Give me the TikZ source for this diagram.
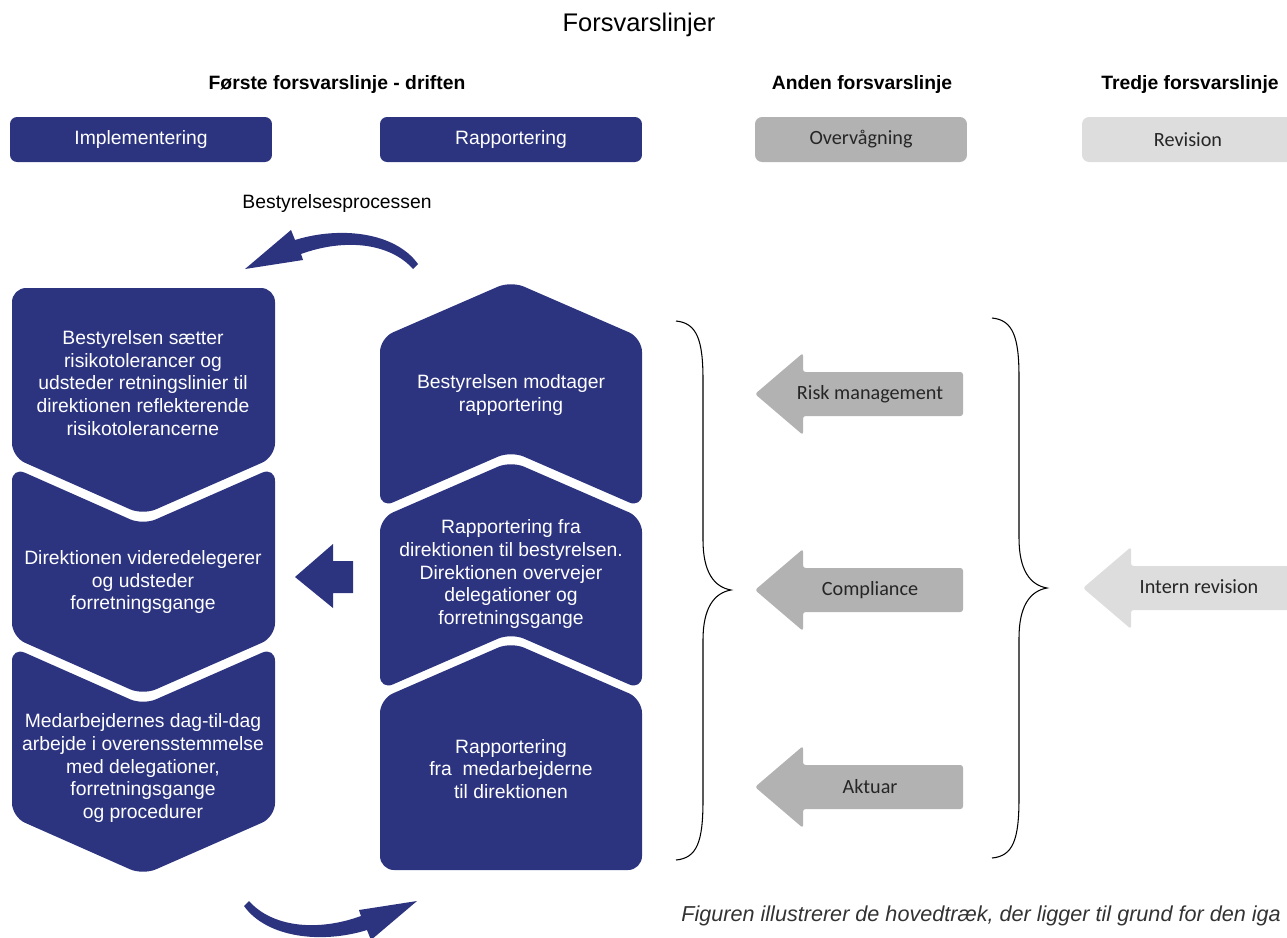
\documentclass[tikz,border=0pt]{standalone}
\usepackage{fontspec}
\setmainfont{Liberation Sans}
\newfontfamily\calibri{Carlito}
\definecolor{navy}{RGB}{44,52,128}
\definecolor{midgray}{RGB}{178,178,178}
\definecolor{lightgray}{RGB}{221,221,221}
\tikzset{
  topbox/.style={rounded corners=4pt, minimum width=5.24cm, minimum height=0.9cm, font=\fontsize{11}{13}\selectfont},
  boxtext/.style={text=white, align=center, font=\fontsize{11}{13}\selectfont},
  head/.style={font=\bfseries\fontsize{11}{13}\selectfont},
  graytext/.style={text=black!85, font=\calibri\fontsize{11.5}{13}\selectfont},
  brace/.style={black, line width=0.6pt}
}

\begin{document}
\begin{tikzpicture}[x=0.02cm, y=-0.02cm]
    \clip (0,0) rectangle (1287,937);

    % titles
    \node[font=\fontsize{14.5}{16}\selectfont] (title) at (639,25) {Forsvarslinjer};
    \node[head] (hdA) at (337,84) {Første forsvarslinje - driften};
    \node[head] (hdB) at (862,84) {Anden forsvarslinje};
    \node[head] (hdC) at (1190,84) {Tredje forsvarslinje};

    \node[topbox, fill=navy, text=white] (impl) at (141,139.5) {Implementering};
    \node[topbox, fill=navy, text=white] (rapp) at (511,139.5) {Rapportering};
    \node[topbox, fill=midgray, text=black!85, font=\calibri\fontsize{11.5}{13}\selectfont, minimum width=4.24cm] (overv) at (861,139.5) {Overvågning};
    \node[topbox, fill=lightgray, text=black!85, font=\calibri\fontsize{11.5}{13}\selectfont, minimum width=4.24cm] (revi) at (1188,139.5) {Revision};

    \node[font=\fontsize{11}{13}\selectfont] (proc) at (337,203) {Bestyrelsesprocessen};

    % process arrows
    \fill[navy]
      (245,269) -- (291,230) -- (295,240) .. controls (340,226) and (395,232) .. (418,264)
      -- (413,269) .. controls (390,243) and (345,238) .. (301,254) -- (303,260) -- cycle;
    \fill[navy, rotate around={180:(331,585)}]
      (245,269) -- (291,230) -- (295,240) .. controls (340,226) and (395,232) .. (418,264)
      -- (413,269) .. controls (390,243) and (345,238) .. (301,254) -- (303,260) -- cycle;

    % first column, chevrons pointing down
    \fill[navy, rounded corners=8]
      (12,288) -- (275,288) -- (275,457) -- (143,515) -- (12,457) -- cycle;
    \fill[navy, rounded corners=8]
      (12,467) -- (143,525) -- (275,467) -- (275,637) -- (143,695) -- (12,637) -- cycle;
    \fill[navy, rounded corners=8]
      (12,647) -- (143,705) -- (275,647) -- (275,817) -- (143,875) -- (12,817) -- cycle;
    \node[boxtext] (c1) at (143,383) {Bestyrelsen sætter\\risikotolerancer og\\udsteder retningslinier til\\direktionen reflekterende\\risikotolerancerne};
    \node[boxtext] (c2) at (143,582) {Direktionen videredelegerer\\og udsteder\\forretningsgange};
    \node[boxtext] (c3) at (143,768) {Medarbejdernes dag-til-dag\\arbejde i overensstemmelse\\med delegationer,\\forretningsgange\\ og procedurer};

    % second column, houses pointing up
    \fill[navy, rounded corners=8]
      (380,338) -- (511,281) -- (642,338) -- (642,508) -- (511,451) -- (380,508) -- cycle;
    \fill[navy, rounded corners=8]
      (380,518) -- (511,461) -- (642,518) -- (642,690) -- (511,633) -- (380,690) -- cycle;
    \fill[navy, rounded corners=8]
      (380,699) -- (511,642) -- (642,699) -- (642,870) -- (380,870) -- cycle;
    \node[boxtext] (r1) at (511,395) {Bestyrelsen modtager\\rapportering};
    \node[boxtext] (r2) at (511,574) {Rapportering fra\\direktionen til bestyrelsen.\\Direktionen overvejer\\delegationer og\\forretningsgange};
    \node[boxtext] (r3) at (511,769) {Rapportering\\fra\ \ medarbejderne\\til direktionen};

    % delegation arrow
    \fill[navy] (295,577) -- (333,544) -- (333,561) -- (353,561) -- (353,593) -- (333,593) -- (333,608) -- cycle;

    % braces
    \draw[brace] (676,321) .. controls (697,323) and (703,340) .. (703,380) -- (703,540)
      .. controls (703,572) and (714,587) .. (731,590) .. controls (714,593) and (703,608) .. (703,640)
      -- (703,800) .. controls (703,842) and (697,858) .. (676,860);
    \draw[brace] (992,318) .. controls (1013,320) and (1019,337) .. (1019,377) -- (1019,538)
      .. controls (1019,570) and (1030,585) .. (1047,588) .. controls (1030,591) and (1019,606) .. (1019,638)
      -- (1019,798) .. controls (1019,840) and (1013,856) .. (992,858);

    % second and third line arrows
    \foreach \yy in {394,590,787}
      \fill[midgray, rounded corners=1.5] (755,\yy) -- ++(48,-41) -- ++(0,19) -- ++(160,0) -- ++(0,44) -- ++(-160,0) -- ++(0,19) -- cycle;
    \fill[lightgray, rounded corners=1.5] (1083,588) -- ++(48,-41) -- ++(0,19) -- ++(180,0) -- ++(0,44) -- ++(-180,0) -- ++(0,19) -- cycle;
    \node[graytext] (risk) at (870,394) {Risk management};
    \node[graytext] (compl) at (870,590) {Compliance};
    \node[graytext] (akt) at (870,787) {Aktuar};
    \node[graytext] (intrev) at (1199,587) {Intern revision};

    \node[anchor=west, inner sep=0pt, text=black!80, font=\itshape\fontsize{12.3}{14}\selectfont] (note) at (681,916) {Figuren illustrerer de hovedtræk, der ligger til grund for den iga};
\end{tikzpicture}
\end{document}
